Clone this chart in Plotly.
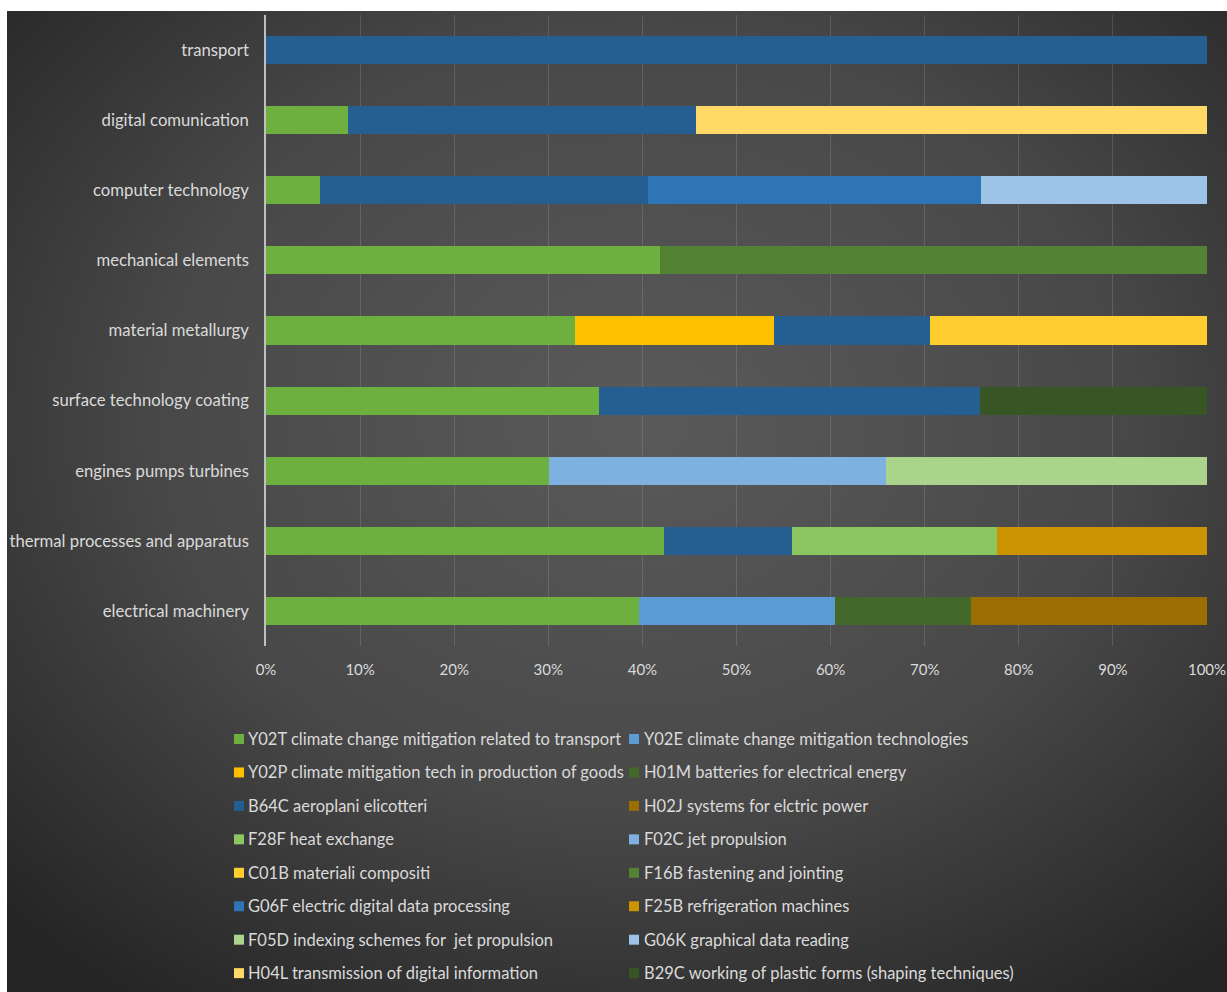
import base64
import plotly.graph_objects as go

# ---------------- data ----------------
categories = [
    "transport", "digital comunication", "computer technology", "mechanical elements",
    "material metallurgy", "surface technology coating", "engines pumps turbines",
    "thermal processes and apparatus", "electrical machinery",
]

series_names = [
    "Y02T climate change mitigation related to transport",
    "Y02E climate change mitigation technologies",
    "Y02P climate mitigation tech in production of goods",
    "H01M batteries for electrical energy",
    "B64C aeroplani elicotteri",
    "H02J systems for elctric power",
    "F28F heat exchange",
    "F02C jet propulsion",
    "C01B materiali compositi",
    "F16B fastening and jointing",
    "G06F electric digital data processing",
    "F25B refrigeration machines",
    "F05D indexing schemes for  jet propulsion",
    "G06K graphical data reading",
    "H04L transmission of digital information",
    "B29C working of plastic forms (shaping techniques)",
]

# shares (%) per category, same order as `categories`
y02t = [None, 8.7, 5.7, 41.9, 32.8, 35.4, 30.1, 42.3, 39.6]
y02e = [None, None, None, None, None, None, None, None, 20.9]
y02p = [None, None, None, None, 21.2, None, None, None, None]
h01m = [None, None, None, None, None, None, None, None, 14.4]
b64c = [100.0, 37.0, 34.9, None, 16.6, 40.5, None, 13.6, None]
h02j = [None, None, None, None, None, None, None, None, 25.1]
f28f = [None, None, None, None, None, None, None, 21.8, None]
f02c = [None, None, None, None, None, None, 35.8, None, None]
c01b = [None, None, None, None, 29.4, None, None, None, None]
f16b = [None, None, None, 58.1, None, None, None, None, None]
g06f = [None, None, 35.4, None, None, None, None, None, None]
f25b = [None, None, None, None, None, None, None, 22.3, None]
f05d = [None, None, None, None, None, None, 34.1, None, None]
g06k = [None, None, 24.0, None, None, None, None, None, None]
h04l = [None, 54.3, None, None, None, None, None, None, None]
b29c = [None, None, None, None, None, 24.1, None, None, None]

series_values = [y02t, y02e, y02p, h01m, b64c, h02j, f28f, f02c,
                 c01b, f16b, g06f, f25b, f05d, g06k, h04l, b29c]

x_ticks = [0, 10, 20, 30, 40, 50, 60, 70, 80, 90, 100]

# ---------------- style ----------------
series_colors = [
    "#6eb040", "#5b9bd5", "#ffc000", "#43682b",
    "#255e91", "#9a6e00", "#8cc660", "#7fb1e0",
    "#ffcd2e", "#548235", "#2e75b6", "#cc9300",
    "#aad38c", "#9dc3e6", "#ffd966", "#375623",
]

W, H = 1227, 992
PL, PR, PT, PB = 266, 1207, 15, 646  # plot area in pixels
FONT = "Lato"
TXT = "#dadada"


def px2x(px):
    return (px - PL) / (PR - PL)


def py2y(py):
    return (PB - py) / (PB - PT)


fig = go.Figure()
for name, vals, col in zip(series_names, series_values, series_colors):
    fig.add_trace(go.Bar(
        y=categories, x=vals, name=name, orientation="h",
        marker=dict(color=col, line=dict(width=0)),
        showlegend=False,
    ))

# background gradient (radial, like the Excel chart style)
svg = (
    '<svg xmlns="http://www.w3.org/2000/svg" width="1220" height="981" '
    'preserveAspectRatio="none" viewBox="0 0 1220 981">'
    '<defs><radialGradient id="g" cx="0.52" cy="0.42" r="0.72">'
    '<stop offset="0" stop-color="#5a5a5a"/>'
    '<stop offset="0.55" stop-color="#484848"/>'
    '<stop offset="1" stop-color="#252525"/>'
    '</radialGradient></defs>'
    '<rect x="0" y="0" width="1220" height="981" fill="url(#g)"/></svg>'
)
src = "data:image/svg+xml;base64," + base64.b64encode(svg.encode()).decode()
bx0, bx1, by0, by1 = 7, 1227, 11, 992
fig.add_layout_image(dict(
    source=src, xref="paper", yref="paper",
    x=px2x(bx0), y=py2y(by0),
    sizex=px2x(bx1) - px2x(bx0), sizey=py2y(by0) - py2y(by1),
    xanchor="left", yanchor="top", sizing="stretch", layer="below",
))

# custom two-column legend (row-major, like Excel)
col_sq = [234, 629]
col_tx = [247, 643]
row0, row_step = 739, 33.45
sq = 10
for i, (name, col) in enumerate(zip(series_names, series_colors)):
    r, c = divmod(i, 2)
    yc = row0 + r * row_step
    fig.add_shape(type="rect", xref="paper", yref="paper",
                  x0=px2x(col_sq[c]), x1=px2x(col_sq[c] + sq),
                  y0=py2y(yc + sq / 2), y1=py2y(yc - sq / 2),
                  fillcolor=col, line=dict(width=0))
    fig.add_annotation(xref="paper", yref="paper", x=px2x(col_tx[c]), y=py2y(yc),
                       xanchor="left", yanchor="middle", text=name, showarrow=False,
                       font=dict(family=FONT, size=16.5, color=TXT), borderpad=0)

fig.update_layout(
    width=W, height=H,
    margin=dict(l=PL, r=W - PR, t=PT, b=H - PB, autoexpand=False),
    barmode="stack", bargap=0.6,
    paper_bgcolor="white", plot_bgcolor="rgba(0,0,0,0)",
    font=dict(family=FONT, color=TXT),
    showlegend=False,
)
fig.update_xaxes(
    range=[0, 100], tickvals=x_ticks, ticktext=[f"{v}%" for v in x_ticks],
    showgrid=True, gridcolor="rgba(255,255,255,0.13)", gridwidth=1,
    zeroline=False, showline=False, automargin=False,
    ticks="outside", ticklen=10, tickcolor="rgba(0,0,0,0)",
    tickfont=dict(family=FONT, size=15, color=TXT),
    fixedrange=True,
)
fig.update_yaxes(
    categoryorder="array", categoryarray=categories[::-1],
    showgrid=False, showline=True, linecolor="#bfbfbf", linewidth=1.5,
    automargin=False,
    ticks="outside", ticklen=12, tickcolor="rgba(0,0,0,0)",
    tickfont=dict(family=FONT, size=16.7, color=TXT),
    fixedrange=True,
)

fig.write_html("out.html")
